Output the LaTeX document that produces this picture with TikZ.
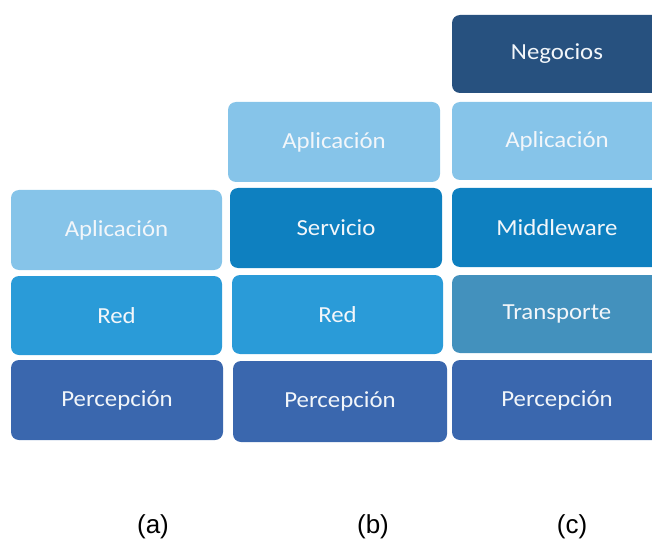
\documentclass[tikz,border=0pt]{standalone}
\usepackage{fontspec}
\setmainfont{Carlito}[FakeStretch=1.08]
\newfontfamily\labelfont{Liberation Sans}
\definecolor{cApp}{HTML}{86C4E9}
\definecolor{cRed}{HTML}{2A9BD8}
\definecolor{cPerc}{HTML}{3A67AE}
\definecolor{cServ}{HTML}{0E80C0}
\definecolor{cNeg}{HTML}{27517F}
\definecolor{cTrans}{HTML}{4391BD}
\definecolor{cText}{HTML}{F2F6FA}
\tikzset{
  layer/.style={rectangle, rounded corners=8pt, inner sep=0pt, text=cText,
    font=\fontsize{23}{26}\selectfont},
  caption/.style={font=\labelfont\fontsize{26}{29}\selectfont, text=black}
}
\begin{document}
\begin{tikzpicture}[x=1pt,y=-1pt]
\useasboundingbox (0,0) rectangle (652,545);
\clip (0,0) rectangle (652,545);
% column (a)
\node[layer, fill=cApp, minimum width=211pt, minimum height=80pt] (a3) at (116.5,230) {Aplicación};
\node[layer, fill=cRed, minimum width=211pt, minimum height=79pt] (a2) at (116.5,315.5) {Red};
\node[layer, fill=cPerc, minimum width=212pt, minimum height=80pt] (a1) at (117,400) {Percepción};
% column (b)
\node[layer, fill=cApp, minimum width=212pt, minimum height=80pt] (b4) at (334,142) {Aplicación};
\node[layer, fill=cServ, minimum width=212pt, minimum height=80pt] (b3) at (336,228) {Servicio};
\node[layer, fill=cRed, minimum width=211pt, minimum height=79pt] (b2) at (337.5,314.5) {Red};
\node[layer, fill=cPerc, minimum width=214pt, minimum height=81pt] (b1) at (340,401.5) {Percepción};
% column (c)
\node[layer, fill=cNeg, minimum width=210pt, minimum height=78pt] (c5) at (557,54) {Negocios};
\node[layer, fill=cApp, minimum width=210pt, minimum height=78pt] (c4) at (557,141) {Aplicación};
\node[layer, fill=cServ, minimum width=210pt, minimum height=79pt] (c3) at (557,227.5) {Middleware};
\node[layer, fill=cTrans, minimum width=210pt, minimum height=78pt] (c2) at (557,314) {Transporte};
\node[layer, fill=cPerc, minimum width=210pt, minimum height=80pt] (c1) at (557,400) {Percepción};
% captions
\node[caption] (la) at (153,527) {(a)};
\node[caption] (lb) at (373,527) {(b)};
\node[caption] (lc) at (572,527) {(c)};
\end{tikzpicture}
\end{document}
